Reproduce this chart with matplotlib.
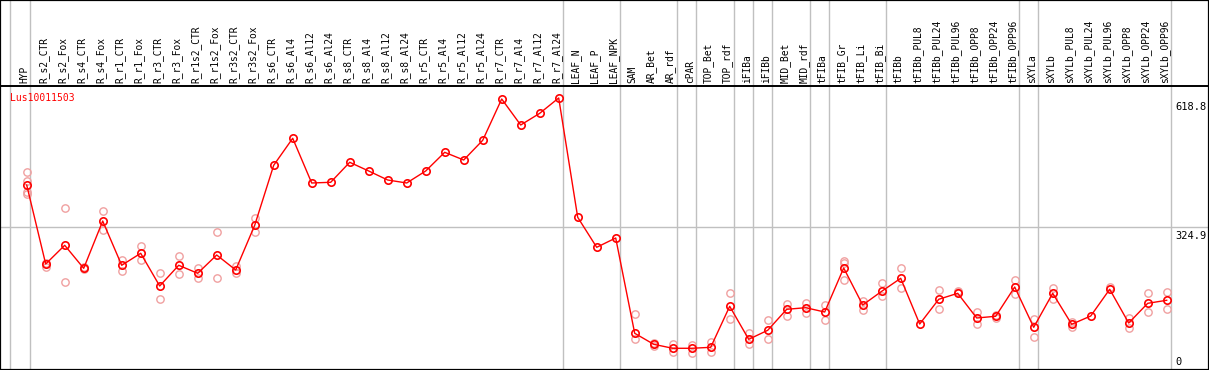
import matplotlib
matplotlib.use('Agg')

import matplotlib.pyplot as plt

# === Data ===
gene = "Lus10011503"

samples = [
    "HYP", "R_s2_CTR", "R_s2_Fox", "R_s4_CTR", "R_s4_Fox", "R_r1_CTR", "R_r1_Fox",
    "R_r3_CTR", "R_r3_Fox", "R_r1s2_CTR", "R_r1s2_Fox", "R_r3s2_CTR", "R_r3s2_Fox",
    "R_s6_CTR", "R_s6_Al4", "R_s6_Al12", "R_s6_Al24", "R_s8_CTR", "R_s8_Al4",
    "R_s8_Al12", "R_s8_Al24", "R_r5_CTR", "R_r5_Al4", "R_r5_Al12", "R_r5_Al24",
    "R_r7_CTR", "R_r7_Al4", "R_r7_Al12", "R_r7_Al24", "LEAF_N", "LEAF_P", "LEAF_NPK",
    "SAM", "AR_Bet", "AR_rdf", "cPAR", "TOP_Bet", "TOP_rdf", "iFIBa", "iFIBb",
    "MID_Bet", "MID_rdf", "tFIBa", "tFIB_Gr", "tFIB_Li", "tFIB_Bi", "tFIBb",
    "tFIBb_PUL8", "tFIBb_PUL24", "tFIBb_PUL96", "tFIBb_OPP8", "tFIBb_OPP24",
    "tFIBb_OPP96", "sXYLa", "sXYLb", "sXYLb_PUL8", "sXYLb_PUL24", "sXYLb_PUL96",
    "sXYLb_OPP8", "sXYLb_OPP24", "sXYLb_OPP96",
]

means = [
    420.8, 241.1, 283.7, 231.3, 338.9, 238.2, 265.5, 191.1, 238.2, 220.0, 261.6,
    227.5, 329.2, 465.7, 527.1, 425.4, 427.0, 472.5, 452.7, 432.2, 425.4, 452.7,
    495.2, 477.7, 522.5, 616.5, 557.3, 583.9, 618.8, 347.4, 279.1, 300.3, 83.5,
    58.5, 49.4, 49.4, 51.6, 144.9, 69.8, 90.3, 138.1, 141.7, 131.9, 232.0, 147.9,
    179.0, 208.6, 104.6, 160.8, 174.5, 118.3, 122.2, 188.8, 97.1, 174.5, 104.0,
    122.8, 183.6, 106.9, 151.7, 158.6,
]

# individual replicate values (empty where they sit on the mean)
replicates = [
    [449.7, 429.9, 405.6, 400.4], [242.7, 235.0], [367.8, 199.5], [234.3, 229.1],
    [361.7, 317.8], [250.2, 225.9], [282.1, 249.5], [220.0, 160.8], [259.3, 217.7],
    [231.3, 210.0], [313.2, 208.6], [237.3, 220.0], [346.5, 314.6],
    [], [], [], [], [], [], [], [], [], [], [], [], [], [], [], [], [], [], [],
    [127.4, 69.8], [55.3, 61.4], [58.5, 40.3], [57.6, 38.7], [63.0, 41.6],
    [174.5, 115.3], [83.5, 58.5], [113.7, 69.8], [150.8, 123.5], [151.7, 129.7],
    [147.2, 114.4], [248.0, 242.7, 204.7], [157.6, 136.5], [197.9, 169.0],
    [231.3, 185.9], [], [182.0, 138.1], [180.4, 176.8], [131.9, 105.3],
    [125.1, 119.0], [204.7, 172.2], [116.7, 74.4], [187.2, 160.8], [109.9, 97.8],
    [], [189.5], [117.6, 94.9], [174.5, 131.3], [177.4, 138.1],
]

# last sample index of each group (grey separators drawn after them)
group_ends = [0, 28, 31, 34, 35, 37, 38, 39, 41, 42, 45, 52, 53, 60]

y_ticks = [618.8, 324.9, 0]

# === Layout (pixel geometry of the original) ===
W, H = 1209, 370
x0, dx = 26.7, 19.0        # pixel x of first sample, spacing
k = 0.4396                 # pixels per unit
header_px = 86             # separator line below the labels

fig = plt.figure(figsize=(W / 100, H / 100), dpi=100)
ax = fig.add_axes([0, 0, 1, 1])
ax.set_xlim(-x0 / dx, (W - x0) / dx)
ax.set_ylim(0, H / k)
ax.set_xticks([])
ax.set_yticks([])
for s in ax.spines.values():
    s.set_linewidth(1.6)
    s.set_color("black")

v_header = (H - header_px) / k
ax.axhline(v_header, color="black", lw=1.4)

# grey separators and midline
ax.axvline(-0.87, color="#c0c0c0", lw=1.0, zorder=1)
for g in group_ends:
    ax.axvline(g + 0.2, color="#c0c0c0", lw=1.0, zorder=1)
ax.plot([-2, len(samples) + 2], [y_ticks[1], y_ticks[1]], color="#c0c0c0", lw=1.0, zorder=1)

mono = "DejaVu Sans Mono"

# column labels
for i, name in enumerate(samples):
    ax.text(i - 0.1, (H - 83) / k, name, rotation=90, ha="center", va="bottom",
            fontsize=6.9, family=mono, color="black")

# replicates
for i, reps in enumerate(replicates):
    if reps:
        ax.plot([i] * len(reps), reps, linestyle="none", marker="o", ms=5.3,
                mfc="none", mec="#f0a0a0", mew=1.0, zorder=2)

# means
ax.plot(range(len(samples)), means, color="red", lw=1.0, marker="o", ms=5.3,
        mfc="none", mec="red", mew=1.2, zorder=3)

# gene name
ax.text(-0.88, (H - 98) / k, gene, color="red", fontsize=7, family=mono,
        ha="left", va="center")

# right axis labels
xr = len(samples) - 1 + 0.45
for t in y_ticks:
    if t == 0:
        ax.text(xr, 3 / k, "0", fontsize=7.5, family=mono, ha="left", va="bottom")
    else:
        ax.text(xr, t - 4 / k, f"{t:.1f}", fontsize=7.5, family=mono, ha="left", va="top")

plt.savefig("out.png", dpi=100)
